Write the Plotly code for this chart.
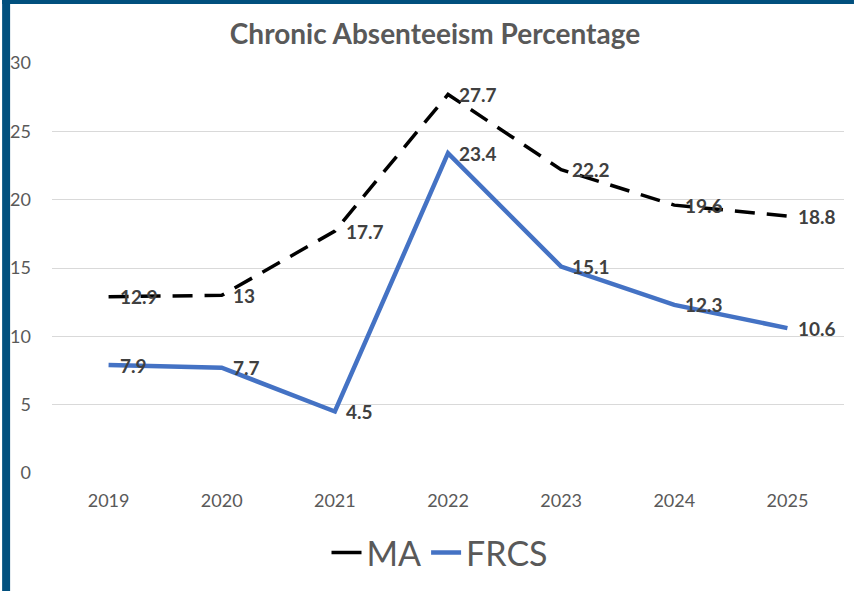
import plotly.graph_objects as go

years = ["2019", "2020", "2021", "2022", "2023", "2024", "2025"]
ma = [12.9, 13, 17.7, 27.7, 22.2, 19.6, 18.8]
frcs = [7.9, 7.7, 4.5, 23.4, 15.1, 12.3, 10.6]
y_ticks = [0, 5, 10, 15, 20, 25, 30]

W, H = 854, 591
L, R, T, B = 50, 10, 63, 118
pw, ph = W - L - R, H - T - B
FONT = "Lato"
BLACK = "black"
BLUE = "#4472C4"

fig = go.Figure()
fig.add_trace(go.Scatter(
    x=years, y=ma, name="MA", mode="lines", showlegend=False,
    line=dict(color=BLACK, width=3.5, dash="20px,12px"),
))
fig.add_trace(go.Scatter(
    x=years, y=frcs, name="FRCS", mode="lines", showlegend=False,
    line=dict(color=BLUE, width=4.5),
))
# legend entries (solid line symbols as in the reference)
fig.add_trace(go.Scatter(x=[None], y=[None], name="MA", mode="lines",
                         line=dict(color=BLACK, width=3.5)))
fig.add_trace(go.Scatter(x=[None], y=[None], name="FRCS", mode="lines",
                         line=dict(color=BLUE, width=4.5)))

annotations = []
for series in (ma, frcs):
    for i, v in enumerate(series):
        annotations.append(dict(
            x=i, y=v, xref="x", yref="y", text=f"<b>{v}</b>", showarrow=False,
            xanchor="left", yanchor="middle", xshift=9,
            font=dict(family=FONT, size=19, color="#404040"),
        ))


def px_x(p):
    return (p - L) / pw


def px_y(p):
    return 1 - (p - T) / ph


shapes = [
    dict(type="rect", xref="paper", yref="paper", x0=px_x(0), x1=px_x(8), y0=px_y(H), y1=px_y(0),
         fillcolor="#01507E", line=dict(width=0), layer="above"),
    dict(type="rect", xref="paper", yref="paper", x0=px_x(0), x1=px_x(W), y0=px_y(4), y1=px_y(0),
         fillcolor="#01507E", line=dict(width=0), layer="above"),
]

fig.update_layout(
    width=W, height=H,
    margin=dict(l=L, r=R, t=T, b=B),
    paper_bgcolor="white", plot_bgcolor="white",
    title=dict(text="<b>Chronic Absenteeism Percentage</b>", x=435 / W, xanchor="center",
               y=1 - 34 / H, yanchor="middle",
               font=dict(family=FONT, size=28, color="#595959")),
    xaxis=dict(type="category", range=[-0.5, 6.5], showgrid=False, showline=False, ticks="",
               zeroline=False, ticklabelstandoff=15,
               tickfont=dict(family=FONT, size=18, color="#595959")),
    yaxis=dict(range=[0, 30], tickvals=y_ticks, showgrid=True, gridcolor="#D9D9D9", gridwidth=1,
               zeroline=False, showline=False, ticks="", ticklabelstandoff=20,
               tickfont=dict(family=FONT, size=18, color="#595959")),
    legend=dict(orientation="h", x=440 / W, xanchor="center", xref="container",
                y=1 - 553 / H, yanchor="middle", yref="container",
                font=dict(family=FONT, size=34, color="#595959")),
    showlegend=True,
    shapes=shapes,
    annotations=annotations,
)

fig.write_html("out.html", config={"displayModeBar": False},
               post_script="document.body.style.margin='0';")
